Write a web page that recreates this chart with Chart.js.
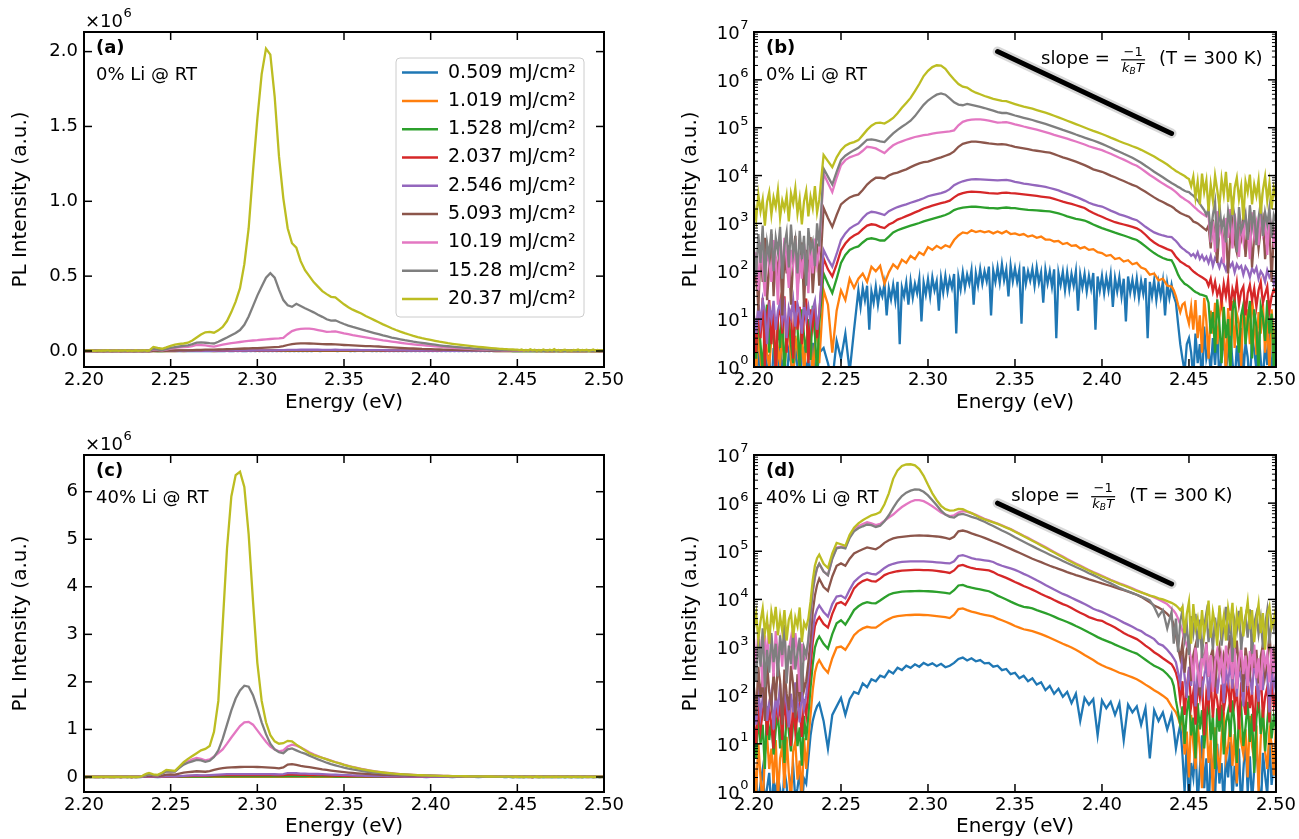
<!DOCTYPE html>
<html>
<head>
<meta charset="utf-8">
<title>PL spectra</title>
<script src="https://cdn.jsdelivr.net/npm/chart.js@4.4.1/dist/chart.umd.min.js"></script>
<style>
  body { margin: 0; background: #fff; }
  #wrap { position: relative; width: 1299px; height: 839px; overflow: hidden; }
  #wrap canvas { position: absolute; }
</style>
</head>
<body>
<div id="wrap">
  <canvas id="panelA" width="650" height="420" style="left:0px;top:0px;"></canvas>
  <canvas id="panelB" width="649" height="420" style="left:650px;top:0px;"></canvas>
  <canvas id="panelC" width="650" height="419" style="left:0px;top:420px;"></canvas>
  <canvas id="panelD" width="649" height="419" style="left:650px;top:420px;"></canvas>
</div>
<script>
// photon energy grid (eV): finer steps where the spectra are only noise
var energy = [
  // 2.2000 - 2.2375
  2.20000, 2.20125, 2.20250, 2.20375, 2.20500, 2.20625, 2.20750, 2.20875,
  2.21000, 2.21125, 2.21250, 2.21375, 2.21500, 2.21625, 2.21750, 2.21875,
  2.22000, 2.22125, 2.22250, 2.22375, 2.22500, 2.22625, 2.22750, 2.22875,
  2.23000, 2.23125, 2.23250, 2.23375, 2.23500, 2.23625, 2.23750,
  // 2.2400 - 2.4375
  2.2400, 2.2425, 2.2450, 2.2475, 2.2500, 2.2525, 2.2550, 2.2575,
  2.2600, 2.2625, 2.2650, 2.2675, 2.2700, 2.2725, 2.2750, 2.2775,
  2.2800, 2.2825, 2.2850, 2.2875, 2.2900, 2.2925, 2.2950, 2.2975,
  2.3000, 2.3025, 2.3050, 2.3075, 2.3100, 2.3125, 2.3150, 2.3175,
  2.3200, 2.3225, 2.3250, 2.3275, 2.3300, 2.3325, 2.3350, 2.3375,
  2.3400, 2.3425, 2.3450, 2.3475, 2.3500, 2.3525, 2.3550, 2.3575,
  2.3600, 2.3625, 2.3650, 2.3675, 2.3700, 2.3725, 2.3750, 2.3775,
  2.3800, 2.3825, 2.3850, 2.3875, 2.3900, 2.3925, 2.3950, 2.3975,
  2.4000, 2.4025, 2.4050, 2.4075, 2.4100, 2.4125, 2.4150, 2.4175,
  2.4200, 2.4225, 2.4250, 2.4275, 2.4300, 2.4325, 2.4350, 2.4375,
  // 2.4400 - 2.5000
  2.44000, 2.44125, 2.44250, 2.44375, 2.44500, 2.44625, 2.44750, 2.44875,
  2.45000, 2.45125, 2.45250, 2.45375, 2.45500, 2.45625, 2.45750, 2.45875,
  2.46000, 2.46125, 2.46250, 2.46375, 2.46500, 2.46625, 2.46750, 2.46875,
  2.47000, 2.47125, 2.47250, 2.47375, 2.47500, 2.47625, 2.47750, 2.47875,
  2.48000, 2.48125, 2.48250, 2.48375, 2.48500, 2.48625, 2.48750, 2.48875,
  2.49000, 2.49125, 2.49250, 2.49375, 2.49500, 2.49625, 2.49750, 2.49875,
  2.50000
];
// the weakest 0% Li spectrum is pure noise over its band: sampled finer there
var energyFineMid = [
  2.26000, 2.26125, 2.26250, 2.26375, 2.26500, 2.26625, 2.26750, 2.26875,
  2.27000, 2.27125, 2.27250, 2.27375, 2.27500, 2.27625, 2.27750, 2.27875,
  2.28000, 2.28125, 2.28250, 2.28375, 2.28500, 2.28625, 2.28750, 2.28875,
  2.29000, 2.29125, 2.29250, 2.29375, 2.29500, 2.29625, 2.29750, 2.29875,
  2.30000, 2.30125, 2.30250, 2.30375, 2.30500, 2.30625, 2.30750, 2.30875,
  2.31000, 2.31125, 2.31250, 2.31375, 2.31500, 2.31625, 2.31750, 2.31875,
  2.32000, 2.32125, 2.32250, 2.32375, 2.32500, 2.32625, 2.32750, 2.32875,
  2.33000, 2.33125, 2.33250, 2.33375, 2.33500, 2.33625, 2.33750, 2.33875,
  2.34000, 2.34125, 2.34250, 2.34375, 2.34500, 2.34625, 2.34750, 2.34875,
  2.35000, 2.35125, 2.35250, 2.35375, 2.35500, 2.35625, 2.35750, 2.35875,
  2.36000, 2.36125, 2.36250, 2.36375, 2.36500, 2.36625, 2.36750, 2.36875,
  2.37000, 2.37125, 2.37250, 2.37375, 2.37500, 2.37625, 2.37750, 2.37875,
  2.38000, 2.38125, 2.38250, 2.38375, 2.38500, 2.38625, 2.38750, 2.38875,
  2.39000, 2.39125, 2.39250, 2.39375, 2.39500, 2.39625, 2.39750, 2.39875,
  2.40000, 2.40125, 2.40250, 2.40375, 2.40500, 2.40625, 2.40750, 2.40875,
  2.41000, 2.41125, 2.41250, 2.41375, 2.41500, 2.41625, 2.41750, 2.41875,
  2.42000, 2.42125, 2.42250, 2.42375, 2.42500, 2.42625, 2.42750, 2.42875,
  2.43000, 2.43125, 2.43250, 2.43375, 2.43500, 2.43625, 2.43750, 2.43875,
  2.44000
];
var energyBlue0 = energy.slice(0, 39).concat(energyFineMid, energy.slice(112));

var fluences = ['0.509 mJ/cm²', '1.019 mJ/cm²', '1.528 mJ/cm²', '2.037 mJ/cm²', '2.546 mJ/cm²',
                '5.093 mJ/cm²', '10.19 mJ/cm²', '15.28 mJ/cm²', '20.37 mJ/cm²'];
var colors = ['#1f77b4', '#ff7f0e', '#2ca02c', '#d62728', '#9467bd', '#8c564b', '#e377c2', '#7f7f7f', '#bcbd22'];

var xTicks = [2.20, 2.25, 2.30, 2.35, 2.40, 2.45, 2.50];
var xLabels = ['2.20', '2.25', '2.30', '2.35', '2.40', '2.45', '2.50'];
var linTicksA = [0, 0.5e6, 1.0e6, 1.5e6, 2.0e6];
var linLabelsA = ['0.0', '0.5', '1.0', '1.5', '2.0'];
var linTicksC = [0, 1e6, 2e6, 3e6, 4e6, 5e6, 6e6];
var linLabelsC = ['0', '1', '2', '3', '4', '5', '6'];
var logTicks = [1, 10, 100, 1e3, 1e4, 1e5, 1e6, 1e7];
var logExps = ['0', '1', '2', '3', '4', '5', '6', '7'];

// ---- 0% Li @ RT ----
var li0_f0509 = [
  1.5, 0.4, 2.2, 0.8, 1.1, 2.8, 0.5, 1.8,
  0.3, 2.5, 1.2, 0.7, 3, 0.9, 1.6, 0.4,
  2.1, 1.3, 0.6, 2.6, 1, 0.35, 1.9, 2.4,
  0.8, 1.4, 0.5, 3.2, 1.1, 0.7, 2,
  2.5, 1.2, 0.5, 3.5, 1.5, 5, 0.8, 6,
  40, 18, 45, 25, 50, 6, 38, 22,
  48, 20, 42, 30, 55, 12, 44, 26,
  52, 24, 60, 3, 46, 30, 58, 20,
  62, 28, 55, 35, 70, 9, 58, 33,
  68, 30, 75, 40, 62, 15, 72, 36,
  80, 38, 70, 45, 88, 5, 76, 42,
  95, 45, 85, 55, 105, 20, 90, 50,
  110, 55, 100, 62, 125, 12, 105, 60,
  120, 58, 140, 65, 110, 30, 130, 62,
  115, 60, 105, 8, 125, 55, 100, 64,
  112, 50, 120, 58, 95, 22, 108, 56,
  100, 48, 110, 4, 92, 52, 98, 40,
  95, 42, 88, 50, 100, 15, 85, 46,
  88, 38, 80, 44, 92, 6, 78, 40,
  80, 35, 75, 40, 85, 18, 72, 38,
  75, 30, 70, 9, 78, 36, 66, 32,
  70, 28, 62, 34, 72, 4, 60, 30,
  65, 25, 58, 30, 62, 12, 55, 28,
  52,
  30, 22, 8, 3, 1.5, 0.8, 3, 4,
  2, 0.6, 5, 1.2, 3, 0.4, 7, 1.5,
  2.5, 0.8, 4, 1.1, 6, 0.5, 2, 3.5,
  0.9, 1.8, 5, 1.3, 0.4, 2.8, 1, 6.5,
  0.7, 3.2, 1.6, 0.35, 4.5, 2.2, 0.9, 5.5,
  1.4, 0.5, 3, 1.1, 7.5, 0.6, 2.4, 1.2
];
var li0_f1019 = [
  3, 0.8, 5, 1.5, 0.5, 6, 2, 1,
  4, 7, 0.6, 2.5, 1.2, 5.5, 0.9, 3.5,
  8, 1.4, 0.5, 4.5, 2.2, 1, 6.5, 0.7,
  3, 1.8, 5, 0.6, 2.8, 7, 1.2,
  40, 20, 2, 15, 40, 25, 70, 45,
  70, 90, 60, 125, 100, 130, 55, 95,
  140, 115, 175, 150, 210, 180, 250, 220,
  320, 280, 340, 300, 350, 320, 450, 560,
  650, 620, 720, 660, 700, 650, 690, 620,
  680, 620, 690, 600, 620, 570, 600, 530,
  560, 500, 530, 460, 460, 420, 430, 370,
  390, 340, 350, 300, 320, 280, 290, 250,
  240, 210, 220, 180, 190, 160, 170, 140,
  150, 120, 110, 85, 90, 65, 70, 50,
  48, 40, 30, 20, 14, 20, 22, 12,
  8, 18, 6, 25, 4, 12, 2, 28,
  9, 1.5, 15, 5, 22, 3, 11, 30,
  7, 0.7, 17, 4.5, 24, 2.5, 13, 8,
  1, 20, 6, 16, 3, 26, 10, 1.8,
  14, 5, 21, 2, 9, 0.8, 16, 3.5,
  6
];
var li0_f1528 = [
  5, 1.5, 12, 3, 0.8, 8, 20, 2,
  15, 4, 1, 9, 2.5, 18, 0.6, 6,
  11, 3, 1.2, 14, 7, 0.9, 16, 4.5,
  2, 10, 1.4, 19, 5, 0.7, 8,
  90, 55, 35, 70, 150, 220, 280, 310,
  330, 400, 470, 490, 470, 440, 440, 530,
  650, 720, 780, 840, 900, 960, 1020, 1100,
  1170, 1250, 1320, 1400, 1500, 1650, 1900, 2050,
  2150, 2200, 2250, 2230, 2200, 2150, 2100, 2080,
  2050, 2120, 2150, 2100, 2080, 2020, 1970, 1920,
  1900, 1870, 1840, 1810, 1780, 1700, 1620, 1520,
  1400, 1320, 1250, 1200, 1150, 1050, 950, 870,
  800, 740, 690, 640, 600, 560, 520, 480,
  450, 390, 330, 280, 240, 210, 190, 175,
  170, 140, 110, 85, 70, 62, 55, 52,
  48, 44, 40, 37, 35, 33, 32, 31,
  30, 22, 5, 14, 2, 26, 8, 1.2,
  18, 4, 10, 0.6, 15, 28, 6, 2,
  12, 20, 3, 9, 24, 1.5, 16, 7,
  0.8, 19, 11, 3.5, 25, 5, 13, 1,
  9
];
var li0_f2037 = [
  8, 2, 20, 4, 28, 1, 12, 25,
  3, 15, 0.7, 10, 22, 5, 30, 2,
  9, 14, 1.5, 24, 6, 18, 3, 11,
  27, 1.2, 16, 7, 21, 4, 13,
  185, 110, 78, 140, 275, 380, 480, 560,
  620, 760, 900, 960, 930, 850, 800, 950,
  1050, 1200, 1300, 1420, 1550, 1700, 1850, 2050,
  2200, 2350, 2500, 2650, 2800, 3000, 3500, 4000,
  4300, 4500, 4600, 4550, 4500, 4400, 4300, 4250,
  4200, 4350, 4400, 4300, 4250, 4150, 4050, 3950,
  3850, 3750, 3650, 3550, 3450, 3250, 3050, 2850,
  2700, 2550, 2400, 2250, 2100, 1850, 1650, 1500,
  1380, 1250, 1150, 1060, 1000, 950, 900, 850,
  790, 700, 580, 470, 400, 350, 320, 290,
  270, 235, 200, 180, 160, 150, 140, 130,
  125, 110, 100, 92, 85, 80, 75, 70,
  65, 50, 70, 38, 60, 32, 45, 22,
  55, 30, 65, 15, 42, 28, 58, 20,
  38, 48, 12, 35, 52, 25, 44, 18,
  40, 60, 22, 33, 48, 15, 30, 42,
  35
];
var li0_f2546 = [
  12, 5, 20, 8, 25, 14, 3, 18,
  10, 24, 6, 15, 22, 9, 19, 4,
  17, 11, 25, 7, 21, 13, 5, 23,
  10, 18, 8, 16, 24, 6, 14,
  280, 180, 125, 230, 450, 620, 780, 900,
  1000, 1300, 1600, 1750, 1700, 1600, 1500, 1800,
  2000, 2200, 2350, 2500, 2700, 2900, 3100, 3350,
  3700, 3900, 4100, 4300, 4600, 5200, 6300, 7000,
  7600, 8000, 8300, 8400, 8300, 8200, 8100, 8000,
  7900, 8000, 8100, 7800, 7400, 7100, 6800, 6600,
  6400, 6200, 6000, 5800, 5500, 5200, 4900, 4500,
  4200, 3900, 3600, 3300, 3000, 2700, 2500, 2350,
  2250, 2050, 1850, 1700, 1550, 1450, 1350, 1250,
  1170, 1000, 850, 740, 650, 600, 560, 530,
  520, 470, 430, 380, 330, 300, 280, 255,
  240, 210, 230, 195, 250, 180, 215, 170,
  200, 150, 210, 130, 190, 160, 120, 175,
  140, 105, 165, 125, 150, 95, 140, 115,
  130, 85, 125, 105, 75, 115, 95, 120,
  70, 100, 85, 60, 105, 75, 90, 55,
  80
];
var li0_f5093 = [
  40, 150, 15, 300, 60, 500, 25, 120,
  600, 30, 200, 80, 450, 12, 250, 90,
  350, 20, 180, 550, 45, 130, 400, 18,
  280, 70, 520, 35, 160, 380, 50,
  2100, 1300, 850, 1500, 2500, 3000, 3500, 3800,
  4000, 5000, 6500, 7800, 9000, 9000, 8700, 10000,
  11000, 11500, 12500, 13500, 15000, 16500, 18000, 19000,
  19500, 21000, 22500, 24000, 26000, 28000, 32000, 40000,
  46000, 49000, 51000, 51000, 50000, 48500, 47000, 46000,
  45000, 45500, 44500, 42000, 40000, 38500, 37000, 35500,
  34000, 33000, 32000, 31000, 30000, 28000, 26000, 24000,
  22500, 21000, 19500, 18000, 16500, 15000, 13500, 12700,
  12000, 11000, 10000, 9200, 8400, 7700, 7000, 6400,
  5900, 5200, 4600, 4000, 3500, 3100, 2800, 2500,
  2250, 2100, 1900, 1780, 1650, 1570, 1500, 1440,
  1380, 1250, 1100, 1050, 1000, 920, 850, 780,
  720, 900, 300, 1200, 500, 150, 800, 1000,
  350, 700, 90, 600, 1100, 400, 250, 800,
  500, 1400, 200, 650, 1000, 120, 550, 900,
  300, 750, 1200, 180, 450, 850, 60, 700,
  500
];
var li0_f1019x10 = [
  80, 250, 40, 400, 120, 30, 300, 150,
  60, 450, 200, 20, 350, 100, 500, 180,
  45, 280, 130, 420, 25, 220, 70, 380,
  160, 35, 320, 90, 480, 140, 260,
  11000, 7000, 4500, 9000, 16500, 21000, 24000, 26000,
  28000, 33000, 40000, 39000, 37000, 33000, 29500, 36000,
  43000, 48000, 52000, 56000, 60000, 64000, 67000, 70000,
  72000, 75000, 78000, 80000, 82000, 84000, 88000, 112000,
  133000, 142000, 148000, 150000, 149000, 146000, 140000, 134000,
  128000, 129000, 131000, 125000, 118000, 112000, 106000, 101000,
  96000, 91000, 86000, 81000, 76000, 71000, 67000, 63000,
  59000, 55000, 51500, 48000, 44500, 41000, 38500, 36000,
  34000, 31000, 28500, 26000, 23500, 21500, 19500, 17500,
  16000, 14000, 12000, 10300, 9000, 7800, 6800, 6000,
  5300, 4900, 4500, 4100, 3700, 3450, 3200, 3000,
  2800, 2550, 2300, 2100, 1900, 1750, 1600, 1500,
  1400, 1500, 400, 1100, 250, 1800, 600, 900,
  150, 1300, 500, 2000, 300, 1600, 700, 200,
  1100, 450, 1400, 800, 180, 1700, 550, 1000,
  350, 1900, 650, 1200, 220, 1500, 750, 400,
  1000
];
var li0_f1528x10 = [
  300, 80, 600, 150, 900, 60, 400, 200,
  750, 100, 500, 250, 850, 70, 350, 650,
  120, 950, 220, 450, 90, 700, 180, 550,
  50, 800, 280, 420, 130, 1000, 330,
  14000, 9500, 6500, 12000, 21000, 26000, 30000, 34000,
  38000, 46000, 56000, 57000, 55000, 52000, 50000, 62000,
  76000, 90000, 105000, 120000, 140000, 175000, 230000, 300000,
  370000, 430000, 490000, 520000, 490000, 410000, 340000, 305000,
  295000, 315000, 300000, 285000, 272000, 258000, 242000, 228000,
  212000, 203000, 205000, 192000, 180000, 170000, 161000, 153000,
  145000, 136000, 128000, 120000, 112000, 104000, 97000, 90000,
  84000, 78000, 72000, 67000, 62000, 58000, 54000, 50000,
  46000, 42000, 38000, 34500, 31500, 28500, 26000, 23500,
  21000, 18500, 16000, 14000, 12000, 10500, 9200, 8000,
  7000, 6600, 6200, 5800, 5500, 5100, 4800, 4600,
  4500, 4100, 3800, 3400, 3000, 2600, 2200, 1900,
  1500, 2000, 600, 1500, 2800, 300, 2500, 800,
  1200, 400, 1800, 900, 2600, 1400, 250, 2200,
  700, 1000, 1600, 450, 2400, 850, 1900, 350,
  1300, 2700, 550, 1700, 950, 2100, 500, 1500,
  1100
];
var li0_f2037x10 = [
  2500, 1200, 4000, 1800, 3200, 900, 2800, 4500,
  1500, 3500, 2200, 5000, 1300, 3000, 2000, 3800,
  1100, 4200, 2600, 5500, 1600, 3300, 950, 2900,
  4800, 1400, 3600, 2100, 6000, 1700, 3100,
  27000, 20000, 15000, 24000, 34000, 42000, 47000, 50000,
  55000, 70000, 90000, 110000, 125000, 128000, 122000, 138000,
  160000, 200000, 260000, 330000, 420000, 580000, 820000, 1200000,
  1550000, 1850000, 2020000, 1980000, 1700000, 1300000, 1020000, 820000,
  720000, 690000, 600000, 540000, 500000, 460000, 430000, 400000,
  380000, 362000, 358000, 335000, 312000, 292000, 276000, 263000,
  250000, 234000, 220000, 206000, 192000, 178000, 165000, 152000,
  140000, 129000, 119000, 110000, 101000, 93000, 86000, 80000,
  74000, 68000, 62000, 57000, 52000, 48000, 44500, 41000,
  38000, 34500, 31000, 28000, 25000, 22000, 19500, 17000,
  14500, 13500, 12500, 11800, 11000, 10400, 9800, 9000,
  8500, 6000, 9500, 3500, 7500, 2500, 11000, 4500,
  8000, 1800, 6500, 3000, 10000, 5000, 2200, 8500,
  4000, 12000, 2800, 7000, 1500, 5500, 9000, 3200,
  6000, 1200, 7500, 4500, 10500, 2500, 6500, 3800,
  8000, 1600, 5000, 9500, 3000, 7000, 2000, 5500,
  3500
];

// ---- 40% Li @ RT ----
var li40_f0509 = [
  0.8, 2, 0.5, 1.5, 3, 0.6, 1.2, 2.5,
  0.4, 1.8, 0.9, 2.2, 1.1, 0.5, 2.8, 1.4,
  0.35, 1.7, 3.5, 0.7, 1.2, 2.6, 0.5, 1.9,
  1.5, 5, 15, 30, 45, 60, 70,
  30, 8, 40, 60, 90, 40, 85, 120,
  110, 180, 150, 220, 200, 260, 240, 330,
  290, 380, 340, 420, 380, 450, 400, 480,
  430, 470, 410, 460, 390, 420, 480, 580,
  620, 540, 600, 520, 550, 470, 480, 400,
  420, 340, 360, 280, 300, 230, 260, 200,
  230, 170, 190, 130, 160, 110, 140, 95,
  120, 70, 110, 30, 90, 65, 85, 15,
  80, 55, 75, 40, 70, 12, 65, 45,
  60, 25, 55, 5, 50, 30, 45, 20,
  40, 20, 8, 15, 25, 6, 1, 12,
  0.4, 4, 2, 9, 0.6, 3, 15, 1.2,
  5, 0.3, 7, 2.5, 0.8, 10, 1.5, 4,
  0.5, 6, 2, 11, 0.7, 3.5, 1.3, 8,
  0.4, 2.8, 13, 1, 5.5, 0.6, 3, 9,
  1.8, 0.35, 6.5, 2.2, 0.9, 12, 1.4, 4.5,
  2
];
var li40_f1019 = [
  4, 1, 10, 2, 0.5, 6, 15, 3,
  8, 1.5, 12, 0.7, 5, 9, 1.2, 14,
  2.5, 0.6, 7, 11, 1.8, 4.5, 0.8, 13,
  3, 12, 40, 130, 300, 450, 550,
  380, 300, 600, 1000, 1050, 900, 1250, 1800,
  2200, 2500, 2700, 2600, 2600, 3000, 3500, 3900,
  4300, 4500, 4600, 4700, 4750, 4800, 4800, 4750,
  4700, 4600, 4500, 4400, 4300, 4100, 4800, 6300,
  6500, 6000, 5600, 5300, 5000, 4800, 4600, 4400,
  4000, 3700, 3400, 3100, 2800, 2600, 2400, 2300,
  2200, 2050, 1900, 1750, 1600, 1450, 1320, 1200,
  1100, 1000, 900, 800, 700, 620, 550, 480,
  430, 390, 360, 330, 300, 280, 260, 240,
  220, 195, 170, 150, 130, 115, 100, 85,
  60, 52, 45, 35, 25, 30, 6, 18,
  2, 40, 10, 3, 25, 8, 1.2, 15,
  35, 4, 12, 0.8, 22, 7, 2.5, 14,
  45, 5, 9, 28, 3.5, 16, 1.5, 33,
  11, 6, 20, 2, 38, 9, 4.5, 24,
  1, 13, 50, 7, 3, 19, 10, 2.2,
  26
];
var li40_f1528 = [
  15, 5, 40, 10, 25, 3, 60, 12,
  30, 6, 20, 45, 8, 35, 4, 55,
  18, 7, 28, 50, 9, 22, 3.5, 38,
  12, 40, 150, 450, 1000, 1400, 1700,
  1200, 950, 1900, 3200, 3700, 3000, 4200, 6000,
  7200, 8200, 8800, 8400, 8300, 9500, 11000, 12500,
  13500, 14000, 14500, 14700, 14800, 14900, 15000, 14900,
  14800, 14600, 14300, 14000, 13700, 13200, 15500, 19500,
  20000, 18500, 17500, 16800, 16200, 15500, 14800, 13500,
  12000, 11000, 10000, 9000, 8200, 7500, 7000, 6800,
  6500, 6000, 5600, 5200, 4800, 4400, 4000, 3700,
  3400, 3100, 2800, 2550, 2300, 2050, 1850, 1650,
  1500, 1380, 1270, 1150, 1050, 960, 880, 810,
  750, 650, 560, 480, 420, 380, 340, 280,
  220, 160, 80, 45, 25, 60, 10, 45,
  100, 15, 35, 5, 70, 20, 50, 8,
  30, 90, 12, 40, 3, 55, 18, 65,
  6, 28, 48, 14, 80, 25, 4, 38,
  60, 9, 22, 75, 11, 42, 2.5, 33,
  85, 16, 52, 7, 27, 95, 13, 36,
  20
];
var li40_f2037 = [
  30, 10, 70, 20, 45, 100, 15, 55,
  25, 8, 80, 35, 60, 12, 90, 28,
  50, 9, 75, 18, 40, 65, 14, 85,
  40, 120, 400, 1300, 2800, 3700, 4300,
  3100, 2600, 5000, 8200, 8800, 7700, 11000, 17000,
  21000, 24000, 26000, 24000, 23500, 27000, 32000, 35000,
  37000, 38500, 39500, 40000, 40500, 41000, 41000, 40500,
  40500, 40000, 39000, 38000, 37000, 35500, 40000, 50000,
  52000, 48000, 45000, 43000, 42000, 41000, 40000, 37000,
  33000, 30500, 28000, 25500, 23000, 21000, 19000, 17500,
  16000, 14500, 13000, 11800, 10800, 9700, 8800, 8000,
  7400, 6600, 5900, 5300, 4800, 4300, 4000, 3700,
  3600, 3200, 2900, 2600, 2300, 2000, 1800, 1650,
  1500, 1300, 1100, 950, 800, 700, 600, 520,
  450, 380, 300, 200, 80, 200, 40, 150,
  350, 60, 120, 25, 180, 90, 250, 15,
  110, 60, 200, 35, 140, 80, 30, 170,
  50, 100, 220, 45, 300, 70, 130, 20,
  190, 85, 40, 260, 55, 120, 18, 160,
  75, 330, 35, 95, 150, 28, 210, 65,
  120
];
var li40_f2546 = [
  60, 25, 150, 40, 90, 200, 30, 70,
  120, 20, 100, 50, 180, 35, 140, 65,
  22, 110, 45, 190, 80, 28, 130, 55,
  100, 250, 800, 2200, 4500, 6200, 7500,
  5500, 4400, 8000, 11500, 12000, 10500, 16000, 23000,
  28000, 33000, 36000, 34000, 33000, 38000, 45000, 51000,
  55000, 58000, 60000, 61000, 62000, 62000, 62000, 61500,
  61000, 60000, 59000, 58000, 57000, 56000, 62000, 80000,
  83000, 78000, 72000, 69000, 67000, 65000, 63000, 60000,
  54000, 50000, 47000, 44000, 41000, 37500, 34000, 31000,
  28000, 25000, 22500, 20000, 18000, 16000, 14500, 13000,
  12000, 10800, 9800, 8900, 8000, 7200, 6400, 5900,
  5500, 5000, 4500, 4100, 3700, 3300, 3000, 2700,
  2400, 2200, 1900, 1700, 1500, 1200, 1100, 900,
  700, 600, 500, 300, 180, 700, 250, 90,
  400, 160, 600, 60, 300, 450, 120, 250,
  550, 80, 350, 200, 650, 110, 280, 420,
  70, 320, 190, 500, 140, 800, 95, 380,
  230, 60, 470, 170, 310, 105, 580, 220,
  75, 360, 130, 520, 260, 45, 400, 150,
  300
];
var li40_f5093 = [
  150, 40, 400, 90, 250, 30, 500, 120,
  60, 300, 80, 450, 200, 25, 350, 110,
  50, 420, 170, 35, 280, 75, 480, 130,
  200, 500, 1500, 5500, 12000, 20000, 27000,
  18000, 15000, 30000, 50000, 56000, 50000, 70000, 90000,
  100000, 110000, 120000, 115000, 110000, 125000, 150000, 170000,
  185000, 195000, 200000, 205000, 210000, 212000, 213000, 212000,
  210000, 207000, 203000, 198000, 190000, 180000, 200000, 260000,
  270000, 255000, 235000, 220000, 205000, 190000, 175000, 160000,
  148000, 135000, 123000, 112000, 102000, 93000, 85000, 77000,
  70000, 64500, 59500, 54500, 50000, 46500, 43000, 40000,
  37000, 34500, 32000, 30000, 28000, 26000, 24500, 23000,
  21500, 20200, 19000, 17700, 16500, 15500, 14500, 13500,
  12500, 11300, 10000, 8700, 7500, 6800, 6000, 5000,
  4000, 3000, 1800, 1000, 600, 1200, 300, 900,
  1500, 200, 700, 1100, 400, 100, 800, 500,
  1300, 250, 650, 950, 150, 550, 1000, 350,
  700, 450, 850, 1800, 220, 600, 1400, 320,
  750, 120, 1000, 480, 280, 1600, 380, 900,
  180, 650, 1150, 260, 520, 2000, 420, 800,
  300
];
var li40_f1019x10 = [
  1500, 300, 2500, 700, 150, 1800, 500, 3000,
  1000, 250, 2200, 600, 1300, 400, 2800, 200,
  900, 1600, 350, 2000, 800, 120, 1200, 550,
  600, 1300, 4500, 14000, 28000, 44000, 55000,
  38000, 32000, 72000, 120000, 125000, 120000, 200000, 280000,
  330000, 370000, 400000, 380000, 350000, 370000, 430000, 500000,
  580000, 700000, 830000, 950000, 1070000, 1150000, 1160000, 1100000,
  980000, 860000, 740000, 640000, 580000, 540000, 560000, 640000,
  680000, 660000, 620000, 570000, 520000, 475000, 440000, 405000,
  375000, 345000, 315000, 288000, 260000, 235000, 210000, 190000,
  170000, 152000, 136000, 122000, 109000, 97000, 87000, 78000,
  69000, 62000, 56000, 50500, 45500, 41000, 37000, 34000,
  31000, 28000, 25500, 23500, 21500, 20000, 18500, 17000,
  15500, 14200, 13000, 12000, 11000, 10000, 9000, 8000,
  6500, 5800, 5000, 4000, 3000, 2200, 1500, 1100,
  900, 600, 200, 1000, 350, 150, 800, 450,
  1200, 250, 700, 120, 500, 900, 300, 650,
  180, 1100, 400, 750, 220, 950, 140, 550,
  1050, 280, 680, 160, 850, 380, 1150, 230,
  600, 130, 900, 420, 720, 190, 1000, 320,
  560
];
var li40_f1528x10 = [
  600, 200, 1500, 400, 2500, 150, 900, 300,
  2000, 500, 1200, 250, 1800, 700, 3000, 180,
  1100, 450, 2200, 350, 800, 1600, 120, 1000,
  700, 1500, 5000, 15000, 30000, 45000, 55000,
  38000, 32000, 70000, 115000, 120000, 115000, 190000, 260000,
  300000, 330000, 360000, 350000, 320000, 340000, 420000, 560000,
  800000, 1100000, 1400000, 1650000, 1820000, 1920000, 1900000, 1720000,
  1450000, 1150000, 900000, 700000, 580000, 520000, 500000, 580000,
  600000, 560000, 520000, 490000, 450000, 410000, 370000, 335000,
  300000, 270000, 245000, 220000, 195000, 175000, 158000, 142000,
  128000, 115000, 104000, 94000, 85000, 77000, 70000, 63000,
  57000, 52000, 47000, 43000, 39000, 35000, 32000, 29000,
  26000, 23500, 21500, 19500, 17500, 16000, 14800, 13500,
  12500, 11500, 10500, 9500, 7000, 4500, 6000, 2500,
  5500, 1200, 4000, 800, 3500, 6000, 1500, 3000,
  700, 4500, 2000, 5000, 1000, 3800, 600, 2800,
  5200, 1300, 3300, 900, 4200, 1800, 6500, 1100,
  3000, 7000, 1400, 4800, 500, 3600, 2200, 5800,
  900, 2600, 4400, 1600, 6200, 750, 3200, 5000,
  1900, 4000, 1000, 2900, 6000, 1200, 3700, 2400,
  5400
];
var li40_f2037x10 = [
  2500, 5000, 1500, 3500, 6500, 2000, 4000, 1200,
  5500, 3000, 7000, 1800, 4500, 2200, 6000, 1400,
  3800, 5200, 1600, 4200, 2800, 6800, 1300, 3300,
  2600, 4000, 9000, 25000, 50000, 72000, 85000,
  55000, 45000, 90000, 150000, 140000, 130000, 220000, 310000,
  380000, 440000, 500000, 560000, 590000, 650000, 950000, 1600000,
  3200000, 4800000, 5900000, 6350000, 6420000, 6100000, 5100000, 3700000,
  2400000, 1600000, 1150000, 880000, 750000, 700000, 710000, 760000,
  750000, 680000, 620000, 560000, 500000, 460000, 430000, 400000,
  370000, 340000, 310000, 285000, 255000, 230000, 205000, 185000,
  165000, 148000, 132000, 118000, 105000, 94000, 84000, 75000,
  67000, 60000, 54000, 49000, 44000, 40000, 36000, 33000,
  30000, 27500, 25000, 23000, 21000, 19500, 18000, 16500,
  15000, 14000, 13000, 12000, 11500, 10500, 10000, 9200,
  8500, 8000, 7500, 6800, 6000, 7000, 2000, 5000,
  9000, 1200, 8000, 2500, 4000, 1500, 6000, 1800,
  3500, 9500, 1600, 5500, 3000, 1100, 7500, 2200,
  4500, 1400, 6500, 3200, 8500, 1000, 5000, 2800,
  7000, 1700, 4200, 9000, 2400, 6000, 1300, 3800,
  8000, 2000, 5200, 900, 4800, 7200, 2600, 3600,
  6800
];

var li0 = [li0_f0509, li0_f1019, li0_f1528, li0_f2037, li0_f2546, li0_f5093, li0_f1019x10, li0_f1528x10, li0_f2037x10];
var li40 = [li40_f0509, li40_f1019, li40_f1528, li40_f2037, li40_f2546, li40_f5093, li40_f1019x10, li40_f1528x10, li40_f2037x10];
var li0Grids = [energyBlue0, energy, energy, energy, energy, energy, energy, energy, energy];
var li40Grids = [energy, energy, energy, energy, energy, energy, energy, energy, energy];

// guide line with slope -1/kBT (energy ends, intensity ends)
var slopeE = [2.340, 2.440];
var slopeB = [3.9e6, 7.6e4];
var slopeD = [1.0e6, 2.1e4];

Chart.defaults.font.family = '"DejaVu Sans", sans-serif';
Chart.defaults.font.size = 18;
Chart.defaults.color = '#000';

var FONT = '"DejaVu Sans", sans-serif';

// "10" with a raised exponent, right edge at x
function powLabel(ctx, base, exp, x, y, align) {
  ctx.textBaseline = 'middle';
  ctx.textAlign = 'left';
  ctx.font = '18px ' + FONT;
  var bw = ctx.measureText(base).width;
  ctx.font = '13px ' + FONT;
  var ew = ctx.measureText(exp).width;
  var x0 = align === 'right' ? x - bw - ew : x;
  ctx.font = '18px ' + FONT;
  ctx.fillText(base, x0, y + 2);
  ctx.font = '13px ' + FONT;
  ctx.fillText(exp, x0 + bw + 0.5, y - 6);
}

var deco = {
  id: 'deco',
  afterDatasetsDraw: function (chart, args, o) {
    var ctx = chart.ctx, a = chart.chartArea;
    var xs = chart.scales.x, ys = chart.scales.y;
    ctx.save();
    ctx.strokeStyle = '#000';
    ctx.fillStyle = '#000';
    function seg(x1, y1, x2, y2, w) {
      ctx.lineWidth = w;
      ctx.beginPath(); ctx.moveTo(x1, y1); ctx.lineTo(x2, y2); ctx.stroke();
    }
    // inward ticks on all four sides
    xs.ticks.forEach(function (t) {
      var p = xs.getPixelForValue(t.value);
      seg(p, a.bottom, p, a.bottom - 8, 1.5);
      seg(p, a.top, p, a.top + 8, 1.5);
    });
    ys.ticks.forEach(function (t) {
      var p = ys.getPixelForValue(t.value);
      seg(a.left, p, a.left + 8, p, 1.5);
      seg(a.right, p, a.right - 8, p, 1.5);
    });
    if (o.log) {
      for (var d = 0; d < 7; d++) {
        for (var m = 2; m < 10; m++) {
          var p = ys.getPixelForValue(m * Math.pow(10, d));
          seg(a.left, p, a.left + 4, p, 1);
          seg(a.right, p, a.right - 4, p, 1);
        }
      }
      // decade labels as 10 with superscript exponent
      ys.ticks.forEach(function (t, i) {
        powLabel(ctx, '10', logExps[i], a.left - 6, ys.getPixelForValue(t.value), 'right');
      });
    }
    ctx.lineWidth = 2;
    ctx.strokeRect(a.left, a.top, a.right - a.left, a.bottom - a.top);

    ctx.textAlign = 'left';
    ctx.textBaseline = 'middle';
    ctx.font = 'bold 18px ' + FONT;
    ctx.fillText(o.tag, a.left + 12, a.top + 16.5);
    ctx.font = '18px ' + FONT;
    ctx.fillText(o.sample, a.left + 12, a.top + 43);

    if (o.offset) {
      powLabel(ctx, '×10', '6', a.left + 1, a.top - 12, 'left');
    }

    if (o.legend) {
      var bx = a.left + 312, by = a.top + 26, bw = 188, bh = 259;
      ctx.beginPath();
      ctx.roundRect(bx, by, bw, bh, 4);
      ctx.fillStyle = 'rgba(255,255,255,0.8)';
      ctx.fill();
      ctx.lineWidth = 1;
      ctx.strokeStyle = '#cccccc';
      ctx.stroke();
      ctx.textAlign = 'left';
      ctx.textBaseline = 'middle';
      ctx.font = '19px ' + FONT;
      for (var k = 0; k < fluences.length; k++) {
        var ry = a.top + 40.6 + 28.3 * k;
        ctx.strokeStyle = colors[k];
        seg(a.left + 318, ry, a.left + 354, ry, 2.5);
        ctx.fillStyle = '#000';
        ctx.fillText(fluences[k], a.left + 364, ry);
      }
    }

    if (o.slopeText) {
      var sx = xs.getPixelForValue(o.slopeText[0]);
      var sy = ys.getPixelForValue(o.slopeText[1]);
      ctx.fillStyle = '#000';
      ctx.textBaseline = 'middle';
      ctx.font = '18px ' + FONT;
      ctx.textAlign = 'left';
      ctx.fillText('slope = ', sx, sy);
      var fc = sx + 92;
      ctx.font = '13px ' + FONT;
      ctx.textAlign = 'center';
      ctx.fillText('\u22121', fc, sy - 7);
      ctx.fillRect(fc - 12, sy, 24, 1.2);
      ctx.textAlign = 'left';
      ctx.font = 'italic 13px ' + FONT;
      ctx.fillText('k', fc - 11, sy + 9);
      ctx.font = 'italic 9px ' + FONT;
      ctx.fillText('B', fc - 3.5, sy + 12);
      ctx.font = 'italic 13px ' + FONT;
      ctx.fillText('T', fc + 3, sy + 9);
      ctx.font = '18px ' + FONT;
      ctx.fillText('(T = 300 K)', sx + 118, sy);
    }
    ctx.restore();
  }
};

function series(vals, k, grid) {
  return {
    label: fluences[k],
    data: grid.map(function (e, i) { return { x: e, y: vals[i] }; }),
    borderColor: colors[k],
    borderWidth: 2.3,
    pointRadius: 0,
    fill: false,
    order: 10 - k
  };
}

function panel(id, sets, grids, o) {
  var ds = sets.map(function (vals, k) { return series(vals, k, grids[k]); });
  if (o.slope) {
    var pts = [{ x: slopeE[0], y: o.slope[0] }, { x: slopeE[1], y: o.slope[1] }];
    ds.push({ data: pts, borderColor: 'rgba(200,200,200,0.7)', borderWidth: 10, borderCapStyle: 'round', pointRadius: 0, order: 0.5 });
    ds.push({ data: pts, borderColor: '#000', borderWidth: 5, borderCapStyle: 'round', pointRadius: 0, order: 0 });
  }
  return new Chart(document.getElementById(id), {
    type: 'line',
    data: { datasets: ds },
    options: {
      animation: false,
      responsive: false,
      events: [],
      layout: { padding: { left: 0, top: o.top, right: o.right, bottom: 0 } },
      plugins: { legend: { display: false }, tooltip: { enabled: false }, deco: o },
      scales: {
        x: {
          type: 'linear', min: 2.2, max: 2.5, bounds: 'data',
          grid: { display: false, drawTicks: false },
          border: { display: false },
          ticks: { padding: 3, autoSkip: false, maxRotation: 0, font: { size: 18 },
                   callback: function (v, i) { return xLabels[i]; } },
          afterBuildTicks: function (s) { s.ticks = xTicks.map(function (v) { return { value: v }; }); },
          afterFit: function (s) { s.height = o.xh; },
          title: { display: true, text: 'Energy (eV)', font: { size: 20 }, padding: { top: 0, bottom: o.xtp } }
        },
        y: {
          type: o.log ? 'logarithmic' : 'linear', min: o.yMin, max: o.yMax, bounds: 'data',
          grid: { display: false, drawTicks: false },
          border: { display: false },
          ticks: { padding: 6, autoSkip: false, font: { size: 18 },
                   callback: function (v, i) { return o.log ? '' : o.yLabels[i]; } },
          afterBuildTicks: function (s) { s.ticks = o.yTicks.map(function (v) { return { value: v }; }); },
          afterFit: function (s) { s.width = o.yw; },
          title: { display: true, text: 'PL Intensity (a.u.)', font: { size: 20 }, padding: { top: o.ytp, bottom: 0 } }
        }
      }
    },
    plugins: [deco]
  });
}

panel('panelA', li0, li0Grids, { log: false, yMin: -0.107e6, yMax: 2.131e6, yTicks: linTicksA, yLabels: linLabelsA,
  top: 32, right: 46, yw: 84, xh: 53, xtp: 5, ytp: 9, tag: '(a)', sample: '0% Li @ RT', legend: true, offset: true });
panel('panelB', li0, li0Grids, { log: true, yMin: 1, yMax: 1e7, yTicks: logTicks,
  top: 32, right: 22, yw: 104, xh: 53, xtp: 5, ytp: 29, tag: '(b)', sample: '0% Li @ RT',
  slope: slopeB, slopeText: [2.365, 2.7e6] });
panel('panelC', li40, li40Grids, { log: false, yMin: -0.316e6, yMax: 6.772e6, yTicks: linTicksC, yLabels: linLabelsC,
  top: 35, right: 46, yw: 84, xh: 47, xtp: 0, ytp: 9, tag: '(c)', sample: '40% Li @ RT', offset: true });
panel('panelD', li40, li40Grids, { log: true, yMin: 1, yMax: 1e7, yTicks: logTicks,
  top: 35, right: 22, yw: 104, xh: 47, xtp: 0, ytp: 29, tag: '(d)', sample: '40% Li @ RT',
  slope: slopeD, slopeText: [2.3478, 1.4e6] });
</script>
</body>
</html>
